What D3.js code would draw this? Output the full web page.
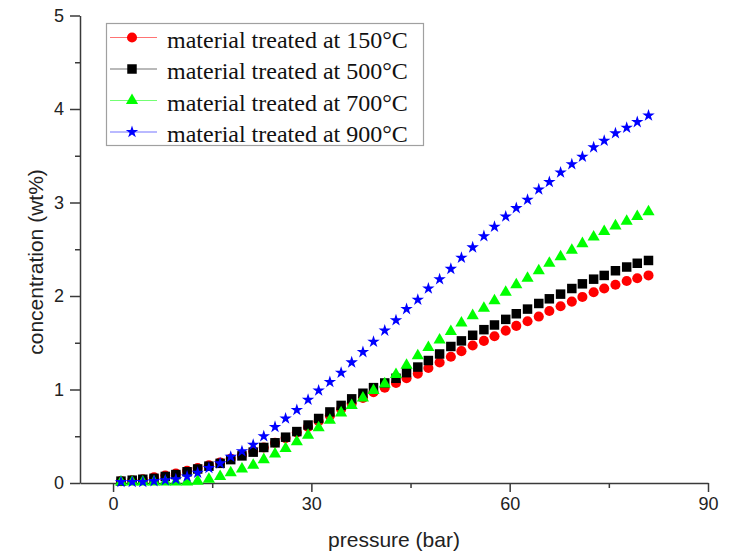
<!DOCTYPE html>
<html>
<head>
<meta charset="utf-8">
<script src="https://cdn.jsdelivr.net/npm/d3@7"></script>
<style>
  body { margin: 0; background: #fff; }
  svg { display: block; }
</style>
</head>
<body>
<svg id="canvas" width="729" height="552"></svg>
<script>
let pressure = [1.2, 2.9, 4.5, 6.2, 7.9, 9.5, 11.2, 12.8, 14.5, 16.2, 17.8, 19.5, 21.2, 22.8, 24.5, 26.1, 27.8, 29.5, 31.1, 32.8, 34.5, 36.1, 37.8, 39.4, 41.1, 42.8, 44.4, 46.1, 47.7, 49.4, 51.1, 52.7, 54.4, 56.1, 57.7, 59.4, 61.0, 62.7, 64.4, 66.0, 67.7, 69.4, 71.0, 72.7, 74.3, 76.0, 77.7, 79.3, 81.0]

let conc150 = [0.02, 0.03, 0.04, 0.06, 0.08, 0.10, 0.13, 0.16, 0.19, 0.22, 0.26, 0.30, 0.34, 0.38, 0.43, 0.48, 0.54, 0.60, 0.66, 0.72, 0.79, 0.85, 0.91, 0.97, 1.02, 1.07, 1.12, 1.17, 1.23, 1.29, 1.35, 1.41, 1.47, 1.52, 1.57, 1.63, 1.68, 1.73, 1.78, 1.84, 1.89, 1.94, 1.99, 2.04, 2.08, 2.12, 2.16, 2.19, 2.22]
let conc500 = [0.02, 0.03, 0.04, 0.05, 0.07, 0.09, 0.12, 0.15, 0.18, 0.21, 0.25, 0.29, 0.33, 0.38, 0.43, 0.49, 0.55, 0.62, 0.69, 0.76, 0.83, 0.90, 0.96, 1.02, 1.07, 1.12, 1.18, 1.24, 1.31, 1.38, 1.46, 1.52, 1.58, 1.64, 1.69, 1.75, 1.81, 1.86, 1.92, 1.97, 2.02, 2.08, 2.13, 2.18, 2.22, 2.27, 2.31, 2.35, 2.38]
let conc700 = [0.01, 0.01, 0.01, 0.01, 0.01, 0.01, 0.01, 0.02, 0.04, 0.07, 0.11, 0.15, 0.19, 0.25, 0.31, 0.37, 0.44, 0.51, 0.59, 0.67, 0.75, 0.83, 0.91, 0.99, 1.06, 1.16, 1.26, 1.36, 1.45, 1.53, 1.62, 1.71, 1.79, 1.87, 1.95, 2.04, 2.12, 2.19, 2.27, 2.35, 2.42, 2.49, 2.56, 2.63, 2.69, 2.75, 2.80, 2.85, 2.90]
let conc900 = [0.01, 0.01, 0.01, 0.02, 0.03, 0.04, 0.07, 0.11, 0.16, 0.21, 0.28, 0.34, 0.41, 0.50, 0.60, 0.69, 0.78, 0.89, 0.99, 1.08, 1.18, 1.29, 1.40, 1.51, 1.63, 1.74, 1.86, 1.96, 2.08, 2.18, 2.29, 2.41, 2.52, 2.64, 2.74, 2.85, 2.94, 3.03, 3.14, 3.22, 3.32, 3.41, 3.49, 3.59, 3.66, 3.74, 3.80, 3.86, 3.93]

let seriesNames = ['material treated at 150°C', 'material treated at 500°C', 'material treated at 700°C', 'material treated at 900°C']
let seriesValues = [conc150, conc500, conc700, conc900]
let seriesColors = ['#ff0000', '#000000', '#00ff00', '#0000ff']
let seriesSymbols = [d3.symbolCircle, d3.symbolSquare, d3.symbolTriangle, d3.symbolStar]
let symbolSizes = [80, 90, 64, 48]

let xMajor = [0, 30, 60, 90]
let xMinor = [15, 45, 75]
let yMajor = [0, 1, 2, 3, 4, 5]
let yMinor = [0.5, 1.5, 2.5, 3.5, 4.5]

let canvas = d3.select('#canvas')

let xScale = d3.scaleLinear().domain([-5, 90]).range([80, 708])
let yScale = d3.scaleLinear().domain([0, 5]).range([483, 15.5])

let axisColor = '#3a3a3a'

// x axis
let xAxis = canvas.append('g').attr('transform', 'translate(0,483)')
xAxis.call(d3.axisBottom(xScale).tickValues(xMajor).tickFormat(d3.format('d')).tickSize(9).tickSizeOuter(0).tickPadding(5))
xAxis.append('g').call(d3.axisBottom(xScale).tickValues(xMinor).tickSize(5).tickSizeOuter(0).tickFormat(''))
     .select('.domain').remove()

// y axis
let yAxis = canvas.append('g').attr('transform', 'translate(80,0)')
yAxis.call(d3.axisLeft(yScale).tickValues(yMajor).tickFormat(d3.format('d')).tickSize(10).tickSizeOuter(0).tickPadding(6))
yAxis.append('g').call(d3.axisLeft(yScale).tickValues(yMinor).tickSize(5).tickSizeOuter(0).tickFormat(''))
     .select('.domain').remove()

canvas.selectAll('.domain').attr('stroke', axisColor).attr('stroke-width', 1.5)
canvas.selectAll('.tick line').attr('stroke', axisColor).attr('stroke-width', 1.5)
canvas.selectAll('.tick text')
      .attr('font-family', 'Liberation Sans, Arial, sans-serif')
      .attr('font-size', 18)
      .attr('fill', '#222')

canvas.append('text')
      .attr('x', 394)
      .attr('y', 547)
      .attr('text-anchor', 'middle')
      .attr('font-family', 'Liberation Sans, Arial, sans-serif')
      .attr('font-size', 21)
      .attr('fill', '#222')
      .text('pressure (bar)')

canvas.append('text')
      .attr('transform', 'translate(43,262) rotate(-90)')
      .attr('text-anchor', 'middle')
      .attr('font-family', 'Liberation Sans, Arial, sans-serif')
      .attr('font-size', 21)
      .attr('fill', '#222')
      .text('concentration (wt%)')

// markers, drawn in series order
seriesValues.forEach((values, i) => {
    let symbol = d3.symbol().type(seriesSymbols[i]).size(symbolSizes[i])
    canvas.append('g')
          .selectAll('path')
          .data(values)
          .enter()
          .append('path')
          .attr('d', symbol)
          .attr('transform', (d, j) => 'translate(' + xScale(pressure[j]) + ',' + yScale(d) + ')')
          .attr('fill', seriesColors[i])
})

// legend
let legend = canvas.append('g')
legend.append('rect')
      .attr('x', 106.5)
      .attr('y', 23.5)
      .attr('width', 317)
      .attr('height', 122)
      .attr('fill', '#fff')
      .attr('stroke', '#a0a0a0')
      .attr('stroke-width', 1.2)

seriesNames.forEach((name, i) => {
    let rowY = 37.5 + i * 31.5
    legend.append('line')
          .attr('x1', 110)
          .attr('x2', 157)
          .attr('y1', rowY)
          .attr('y2', rowY)
          .attr('stroke', seriesColors[i])
          .attr('stroke-opacity', 0.55)
          .attr('stroke-width', 1)
    legend.append('path')
          .attr('d', d3.symbol().type(seriesSymbols[i]).size(symbolSizes[i])())
          .attr('transform', 'translate(132,' + rowY + ')')
          .attr('fill', seriesColors[i])
    legend.append('text')
          .attr('x', 167)
          .attr('y', rowY + 10)
          .attr('font-family', 'Liberation Serif, Times New Roman, serif')
          .attr('font-size', 24)
          .attr('fill', '#111')
          .text(name)
})
</script>
</body>
</html>
